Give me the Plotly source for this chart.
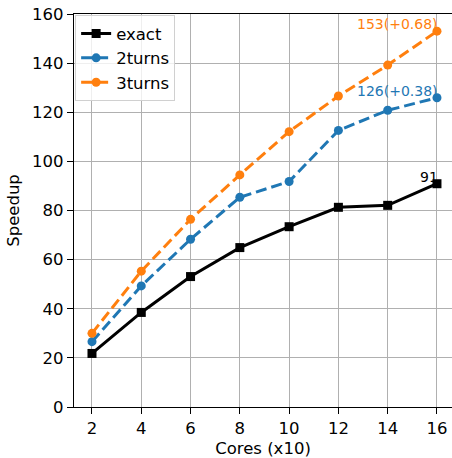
import plotly.graph_objects as go

cores = [2, 4, 6, 8, 10, 12, 14, 16]
exact = [21.8, 38.5, 53.1, 64.9, 73.4, 81.3, 82.1, 90.9]
turns2 = [26.6, 49.3, 68.3, 85.4, 91.8, 112.6, 120.8, 125.9]
turns3 = [30.0, 55.3, 76.4, 94.5, 112.1, 126.6, 139.2, 153.0]
labels = ["91", "126(+0.38)", "153(+0.68)"]
x_ticks = [2, 4, 6, 8, 10, 12, 14, 16]
y_ticks = [0, 20, 40, 60, 80, 100, 120, 140, 160]

FONT = "DejaVu Sans"
BLUE = "#1f77b4"
ORANGE = "#ff7f0e"
FS = 16.5

fig = go.Figure()
fig.add_trace(go.Scatter(x=cores, y=exact, name="exact", mode="lines+markers",
                         line=dict(color="black", width=3),
                         marker=dict(symbol="square", size=9, color="black")))
fig.add_trace(go.Scatter(x=cores, y=turns2, name="2turns", mode="lines+markers",
                         line=dict(color=BLUE, width=3, dash="11px,5px"),
                         marker=dict(symbol="circle", size=9, color=BLUE)))
fig.add_trace(go.Scatter(x=cores, y=turns3, name="3turns", mode="lines+markers",
                         line=dict(color=ORANGE, width=3, dash="11px,5px"),
                         marker=dict(symbol="circle", size=9, color=ORANGE)))

for series, text, color in [(exact, labels[0], "black"), (turns2, labels[1], BLUE), (turns3, labels[2], ORANGE)]:
    fig.add_annotation(x=cores[-1], y=series[-1], text=text, showarrow=False,
                       xanchor="right", yanchor="bottom", xshift=3, yshift=-3,
                       font=dict(family=FONT, size=14, color=color))

fig.update_layout(
    width=452, height=458,
    margin=dict(l=74, r=0, t=14, b=51),
    plot_bgcolor="white", paper_bgcolor="white",
    font=dict(family=FONT, size=FS, color="black"),
    showlegend=True,
    legend=dict(x=0.003, y=0.997, xanchor="left", yanchor="top",
                bgcolor="rgba(255,255,255,0.8)", bordercolor="#d0d0d0", borderwidth=1,
                font=dict(family=FONT, size=FS), tracegroupgap=0),
)
fig.update_xaxes(range=[1.27, 16.61], tickvals=x_ticks, ticktext=[str(v) for v in x_ticks],
                 showgrid=True, gridcolor="#b0b0b0", gridwidth=1,
                 showline=True, linecolor="black", linewidth=1.3, mirror=True,
                 ticks="outside", ticklen=6, tickcolor="black", zeroline=False,
                 ticklabeloverflow="allow",
                 title=dict(text="Cores (x10)", font=dict(family=FONT, size=FS), standoff=6),
                 tickfont=dict(family=FONT, size=FS))
fig.update_yaxes(range=[0, 160], tickvals=y_ticks, ticktext=[str(v) for v in y_ticks],
                 showgrid=True, gridcolor="#b0b0b0", gridwidth=1,
                 showline=True, linecolor="black", linewidth=1.3, mirror=False,
                 ticks="outside", ticklen=6, tickcolor="black", zeroline=False,
                 ticklabeloverflow="allow",
                 title=dict(text="Speedup", font=dict(family=FONT, size=FS), standoff=8),
                 tickfont=dict(family=FONT, size=FS))

fig.write_html("out.html", config={"displayModeBar": False},
               post_script="document.body.style.margin='0';document.body.style.overflow='hidden';")
